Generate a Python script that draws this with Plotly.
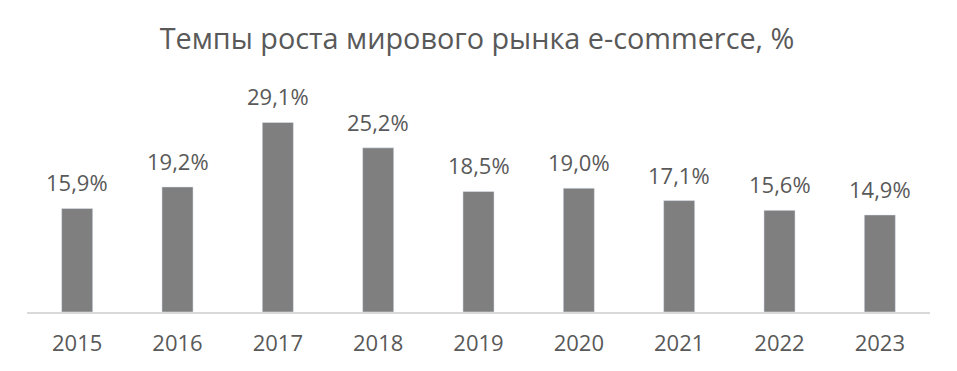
import plotly.graph_objects as go

years = ["2015", "2016", "2017", "2018", "2019", "2020", "2021", "2022", "2023"]
growth = [15.9, 19.2, 29.1, 25.2, 18.5, 19.0, 17.1, 15.6, 14.9]
labels = [f"{v:.1f}%".replace(".", ",") for v in growth]
title_text = "Темпы роста мирового рынка e-commerce, %"

FONT = "Open Sans"
TXT = "#595959"

fig = go.Figure(go.Bar(
    x=years, y=growth, marker_color="#7f7f7f", width=0.31,
    hoverinfo="skip",
))

for i, (y, t) in enumerate(zip(growth, labels)):
    fig.add_annotation(x=i, y=y, text=t, showarrow=False, yanchor="bottom",
                       yshift=9, font=dict(family=FONT, size=22, color=TXT))

fig.update_layout(
    width=957, height=371,
    margin=dict(l=19, r=35, t=89, b=67),
    paper_bgcolor="white", plot_bgcolor="white",
    showlegend=False,
    title=dict(text=title_text, x=469 / 957, xanchor="center",
               y=1 - 31 / 371, yanchor="middle", yref="container",
               font=dict(family=FONT, size=28.8, color=TXT)),
    xaxis=dict(type="category", range=[-0.5, len(years) - 0.5],
               showline=True, linecolor="#d9d9d9", linewidth=1.5,
               ticks="outside", ticklen=11, tickcolor="rgba(0,0,0,0)",
               tickfont=dict(family=FONT, size=22, color=TXT), showgrid=False),
    yaxis=dict(range=[0, 33], visible=False, showgrid=False),
)

fig.write_html("out.html")
